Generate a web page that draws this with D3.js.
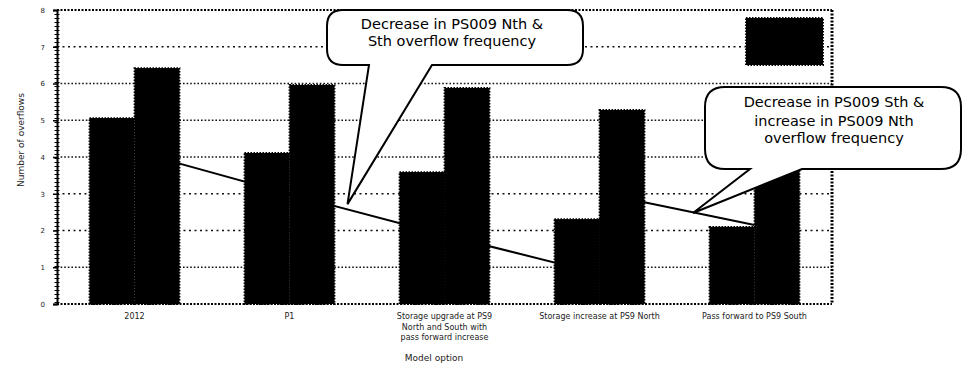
<!DOCTYPE html>
<html>
<head>
<meta charset="utf-8">
<script src="https://cdn.jsdelivr.net/npm/d3@7"></script>
<style>
  html, body { margin: 0; padding: 0; background: #fff; }
  svg { display: block; font-family: "DejaVu Sans", Verdana, sans-serif; }
</style>
</head>
<body>
<svg id="chart" width="963" height="372"></svg>
<script>
// Overflow options compared for the PS009 pumping station
const categories = [
  "2012",
  "P1",
  "Storage upgrade at PS9|North and South with|pass forward increase",
  "Storage increase at PS9 North",
  "Pass forward to PS9 South"
];
const seriesNames = ["PS009 Sth", "PS009 Nth"];
const sthValues = [5.06, 4.11, 3.59, 2.31, 2.10];
const nthValues = [6.42, 5.96, 5.88, 5.28, 5.60];
const yTicks = [0, 1, 2, 3, 4, 5, 6, 7, 8];

// Trend lines running behind the bars
const trendFirst = [
  { cat: 0, v: 4.16 }, { cat: 1, v: 2.99 }, { cat: 2, v: 1.88 }, { cat: 3, v: 0.82 }
];
const trendSecond = [
  { cat: 3, v: 3.02 }, { cat: 4, v: 2.15 }
];

const yTitle = "Number of overflows";
const xTitle = "Model option";
const callouts = [
  { lines: ["Decrease in PS009 Nth &", "Sth overflow frequency"] },
  { lines: ["Decrease in PS009 Sth &", "increase in PS009 Nth", "overflow frequency"] }
];

const svg = d3.select("#chart");
const plot = { left: 57, right: 832, top: 10, bottom: 304 };

const x = d3.scaleBand().domain(d3.range(categories.length))
  .range([plot.left, plot.right]).padding(0);
const xSub = d3.scaleBand().domain(seriesNames)
  .range([0, x.bandwidth()]).paddingInner(0).paddingOuter(0.722);
const y = d3.scaleLinear().domain([0, 8]).range([plot.bottom, plot.top]);

// Grid lines
const gridStyle = v => (v === 2 || v === 3 || v === 7) ? "2,3.5" : "1.6,2";
svg.append("g").selectAll("line")
  .data(yTicks.filter(v => v > 0 && v < 8))
  .join("line")
  .attr("x1", plot.left).attr("x2", plot.right)
  .attr("y1", d => y(d)).attr("y2", d => y(d))
  .attr("stroke", "#111").attr("stroke-width", 1.6)
  .attr("stroke-dasharray", d => gridStyle(d));

// Frame: dotted top, bottom and right edges
const frame = svg.append("g");
frame.append("line").attr("x1", plot.left).attr("x2", plot.right)
  .attr("y1", y(8)).attr("y2", y(8))
  .attr("stroke", "#000").attr("stroke-width", 2.2).attr("stroke-dasharray", "2,1.5");
frame.append("line").attr("x1", plot.left).attr("x2", plot.right)
  .attr("y1", y(0)).attr("y2", y(0))
  .attr("stroke", "#000").attr("stroke-width", 2.2).attr("stroke-dasharray", "2,1.5");
frame.append("line").attr("x1", plot.right).attr("x2", plot.right)
  .attr("y1", plot.top).attr("y2", plot.bottom)
  .attr("stroke", "#000").attr("stroke-width", 3).attr("stroke-dasharray", "2,1.5");

// Trend lines
const line = d3.line()
  .x(d => x(d.cat) + x.bandwidth() / 2)
  .y(d => y(d.v));
[trendFirst, trendSecond].forEach(t => {
  svg.append("path").datum(t)
    .attr("d", line).attr("fill", "none")
    .attr("stroke", "#000").attr("stroke-width", 2);
});

// Bars
const rows = categories.map((c, i) => ({ i, values: [sthValues[i], nthValues[i]] }));
const groups = svg.append("g").selectAll("g")
  .data(rows).join("g")
  .attr("transform", d => `translate(${x(d.i)},0)`);
groups.selectAll("rect")
  .data(d => d.values.map((v, k) => ({ key: seriesNames[k], v })))
  .join("rect")
  .attr("x", d => xSub(d.key))
  .attr("width", xSub.bandwidth())
  .attr("y", d => y(d.v))
  .attr("height", d => y(0) - y(d.v))
  .attr("fill", "#000")
  .attr("stroke", "#000").attr("stroke-width", 1.8).attr("stroke-dasharray", "1.5,1.5");

// Y axis
const yAxis = svg.append("g").attr("transform", `translate(${plot.left},0)`)
  .call(d3.axisLeft(y).tickValues(yTicks).tickSize(4).tickPadding(8));
yAxis.select(".domain").attr("stroke", "#000").attr("stroke-width", 2);
yAxis.selectAll(".tick line").attr("stroke", "#000").attr("stroke-width", 1.5);
yAxis.selectAll(".tick text").attr("font-size", 7).attr("fill", "#222")
  .attr("font-family", "DejaVu Sans");
svg.append("line").attr("x1", plot.left).attr("x2", plot.left)
  .attr("y1", plot.top).attr("y2", plot.bottom)
  .attr("stroke", "#000").attr("stroke-width", 5).attr("stroke-dasharray", "1,3");

// X tick labels
const xLabels = svg.append("g");
categories.forEach((c, i) => {
  const t = xLabels.append("text")
    .attr("x", x(i) + x.bandwidth() / 2)
    .attr("y", 319)
    .attr("text-anchor", "middle")
    .attr("font-size", 8).attr("fill", "#222");
  c.split("|").forEach((s, k) => {
    t.append("tspan").attr("x", x(i) + x.bandwidth() / 2)
      .attr("dy", k === 0 ? 0 : 10.5).text(s);
  });
});

// Axis titles
svg.append("text")
  .attr("transform", "translate(24,140) rotate(-90)")
  .attr("text-anchor", "middle").attr("font-size", 9).attr("fill", "#222")
  .text(yTitle);
svg.append("text")
  .attr("x", 434).attr("y", 361)
  .attr("text-anchor", "middle").attr("font-size", 9).attr("fill", "#222")
  .text(xTitle);

// Legend box
svg.append("rect")
  .attr("x", 746).attr("y", 18).attr("width", 77).attr("height", 47)
  .attr("fill", "#000")
  .attr("stroke", "#000").attr("stroke-width", 2).attr("stroke-dasharray", "1.5,1.5");

// Speech-bubble callouts
function bubble(bx, by, bw, bh, r, baseL, baseR, tip) {
  const p = d3.path();
  p.moveTo(bx + r, by);
  p.lineTo(bx + bw - r, by);
  p.quadraticCurveTo(bx + bw, by, bx + bw, by + r);
  p.lineTo(bx + bw, by + bh - r);
  p.quadraticCurveTo(bx + bw, by + bh, bx + bw - r, by + bh);
  p.lineTo(baseR, by + bh);
  p.lineTo(tip[0], tip[1]);
  p.lineTo(baseL, by + bh);
  p.lineTo(bx + r, by + bh);
  p.quadraticCurveTo(bx, by + bh, bx, by + bh - r);
  p.lineTo(bx, by + r);
  p.quadraticCurveTo(bx, by, bx + r, by);
  p.closePath();
  return p.toString();
}

const c1 = svg.append("g");
c1.append("path")
  .attr("d", bubble(327, 10, 256, 55, 16, 369, 432,
    [x(1) + x.bandwidth() / 2 + 58, y(trendFirst[1].v) + 10]))
  .attr("fill", "#fff").attr("stroke", "#000").attr("stroke-width", 2);
c1.append("text").attr("x", 452).attr("y", 29)
  .attr("text-anchor", "middle").attr("font-size", 14.5).attr("fill", "#000")
  .selectAll("tspan").data(callouts[0].lines).join("tspan")
  .attr("x", 452).attr("dy", (d, k) => k === 0 ? 0 : 17).text(d => d);

const c2 = svg.append("g");
c2.append("path")
  .attr("d", bubble(705, 87, 256, 82, 20, 750, 802,
    [693, 213]))
  .attr("fill", "#fff").attr("stroke", "#000").attr("stroke-width", 2);
c2.append("text").attr("x", 834).attr("y", 107)
  .attr("text-anchor", "middle").attr("font-size", 14.5).attr("fill", "#000")
  .selectAll("tspan").data(callouts[1].lines).join("tspan")
  .attr("x", 834).attr("dy", (d, k) => k === 0 ? 0 : (k === 1 ? 19 : 17)).text(d => d);
</script>
</body>
</html>
